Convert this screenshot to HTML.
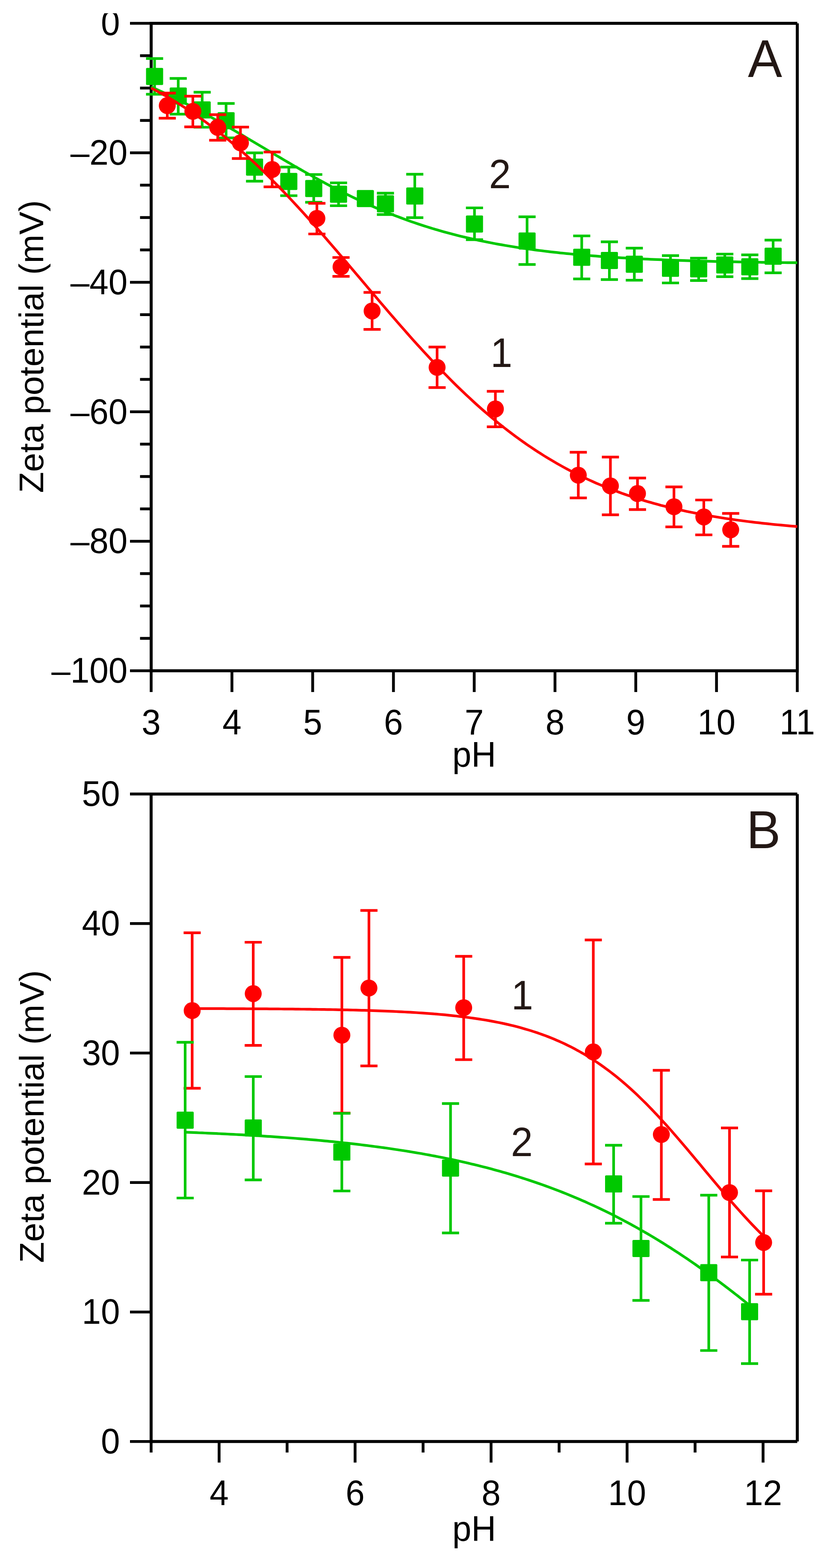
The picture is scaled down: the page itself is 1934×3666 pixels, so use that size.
<!DOCTYPE html>
<html><head><meta charset="utf-8"><title>Zeta potential vs pH</title>
<style>
html,body{margin:0;padding:0;background:#fff;}
svg{display:block;}
text{font-family:"Liberation Sans",Arial,Helvetica,sans-serif;}
</style></head>
<body>
<svg width="1934" height="3666" viewBox="0 0 1934 3666">
<rect width="1934" height="3666" fill="#fff"/>
<line x1="304.0" y1="54.5" x2="353.5" y2="54.5" stroke="#000" stroke-width="6.6"/>
<line x1="327.5" y1="130.2" x2="353.5" y2="130.2" stroke="#000" stroke-width="6.6"/>
<line x1="327.5" y1="205.9" x2="353.5" y2="205.9" stroke="#000" stroke-width="6.6"/>
<line x1="327.5" y1="281.6" x2="353.5" y2="281.6" stroke="#000" stroke-width="6.6"/>
<line x1="304.0" y1="357.2" x2="353.5" y2="357.2" stroke="#000" stroke-width="6.6"/>
<line x1="327.5" y1="432.9" x2="353.5" y2="432.9" stroke="#000" stroke-width="6.6"/>
<line x1="327.5" y1="508.6" x2="353.5" y2="508.6" stroke="#000" stroke-width="6.6"/>
<line x1="327.5" y1="584.3" x2="353.5" y2="584.3" stroke="#000" stroke-width="6.6"/>
<line x1="304.0" y1="660.0" x2="353.5" y2="660.0" stroke="#000" stroke-width="6.6"/>
<line x1="327.5" y1="735.7" x2="353.5" y2="735.7" stroke="#000" stroke-width="6.6"/>
<line x1="327.5" y1="811.4" x2="353.5" y2="811.4" stroke="#000" stroke-width="6.6"/>
<line x1="327.5" y1="887.0" x2="353.5" y2="887.0" stroke="#000" stroke-width="6.6"/>
<line x1="304.0" y1="962.7" x2="353.5" y2="962.7" stroke="#000" stroke-width="6.6"/>
<line x1="327.5" y1="1038.4" x2="353.5" y2="1038.4" stroke="#000" stroke-width="6.6"/>
<line x1="327.5" y1="1114.1" x2="353.5" y2="1114.1" stroke="#000" stroke-width="6.6"/>
<line x1="327.5" y1="1189.8" x2="353.5" y2="1189.8" stroke="#000" stroke-width="6.6"/>
<line x1="304.0" y1="1265.5" x2="353.5" y2="1265.5" stroke="#000" stroke-width="6.6"/>
<line x1="327.5" y1="1341.1" x2="353.5" y2="1341.1" stroke="#000" stroke-width="6.6"/>
<line x1="327.5" y1="1416.8" x2="353.5" y2="1416.8" stroke="#000" stroke-width="6.6"/>
<line x1="327.5" y1="1492.5" x2="353.5" y2="1492.5" stroke="#000" stroke-width="6.6"/>
<line x1="304.0" y1="1568.2" x2="353.5" y2="1568.2" stroke="#000" stroke-width="6.6"/>
<line x1="353.5" y1="1568.2" x2="353.5" y2="1618.0" stroke="#000" stroke-width="6.6"/>
<line x1="542.4" y1="1568.2" x2="542.4" y2="1618.0" stroke="#000" stroke-width="6.6"/>
<line x1="731.2" y1="1568.2" x2="731.2" y2="1618.0" stroke="#000" stroke-width="6.6"/>
<line x1="920.1" y1="1568.2" x2="920.1" y2="1618.0" stroke="#000" stroke-width="6.6"/>
<line x1="1109.0" y1="1568.2" x2="1109.0" y2="1618.0" stroke="#000" stroke-width="6.6"/>
<line x1="1297.9" y1="1568.2" x2="1297.9" y2="1618.0" stroke="#000" stroke-width="6.6"/>
<line x1="1486.8" y1="1568.2" x2="1486.8" y2="1618.0" stroke="#000" stroke-width="6.6"/>
<line x1="1675.6" y1="1568.2" x2="1675.6" y2="1618.0" stroke="#000" stroke-width="6.6"/>
<line x1="1864.5" y1="1568.2" x2="1864.5" y2="1618.0" stroke="#000" stroke-width="6.6"/>
<line x1="353.5" y1="51.0" x2="353.5" y2="1571.7" stroke="#000" stroke-width="7.0"/>
<line x1="350.0" y1="54.5" x2="1864.5" y2="54.5" stroke="#000" stroke-width="7.0"/>
<line x1="1864.5" y1="54.5" x2="1864.5" y2="1571.7" stroke="#000" stroke-width="7.0"/>
<line x1="350.0" y1="1568.2" x2="1868.0" y2="1568.2" stroke="#000" stroke-width="7.0"/>
<text x="280.5" y="0" font-size="80" text-anchor="end" fill="#000" transform="translate(0 82.4) scale(1 1.04)">0</text>
<text x="298.3" y="0" font-size="80" text-anchor="end" fill="#000" transform="translate(0 385.1) scale(1 1.04)">–20</text>
<text x="298.3" y="0" font-size="80" text-anchor="end" fill="#000" transform="translate(0 687.9) scale(1 1.04)">–40</text>
<text x="298.3" y="0" font-size="80" text-anchor="end" fill="#000" transform="translate(0 990.6) scale(1 1.04)">–60</text>
<text x="298.3" y="0" font-size="80" text-anchor="end" fill="#000" transform="translate(0 1293.4) scale(1 1.04)">–80</text>
<text x="298.3" y="0" font-size="80" text-anchor="end" fill="#000" transform="translate(0 1596.1) scale(1 1.04)">–100</text>
<text x="353.5" y="0" font-size="80" text-anchor="middle" fill="#000" transform="translate(0 1717.3) scale(1 1.04)">3</text>
<text x="542.4" y="0" font-size="80" text-anchor="middle" fill="#000" transform="translate(0 1717.3) scale(1 1.04)">4</text>
<text x="731.2" y="0" font-size="80" text-anchor="middle" fill="#000" transform="translate(0 1717.3) scale(1 1.04)">5</text>
<text x="920.1" y="0" font-size="80" text-anchor="middle" fill="#000" transform="translate(0 1717.3) scale(1 1.04)">6</text>
<text x="1109.0" y="0" font-size="80" text-anchor="middle" fill="#000" transform="translate(0 1717.3) scale(1 1.04)">7</text>
<text x="1297.9" y="0" font-size="80" text-anchor="middle" fill="#000" transform="translate(0 1717.3) scale(1 1.04)">8</text>
<text x="1486.8" y="0" font-size="80" text-anchor="middle" fill="#000" transform="translate(0 1717.3) scale(1 1.04)">9</text>
<text x="1675.6" y="0" font-size="80" text-anchor="middle" fill="#000" transform="translate(0 1717.3) scale(1 1.04)">10</text>
<text x="1864.5" y="0" font-size="80" text-anchor="middle" fill="#000" transform="translate(0 1717.3) scale(1 1.04)">11</text>
<text x="1109.0" y="0" font-size="80" text-anchor="middle" fill="#000" transform="translate(0 1792.8) scale(1 1.04)">pH</text>
<text x="0" y="0" font-size="80.5" text-anchor="middle" transform="translate(101.3 810.3) rotate(-90) scale(1 1.0)">Zeta potential (mV)</text>
<text x="1789.0" y="0" font-size="120" text-anchor="middle" fill="#231815" transform="translate(0 179.9) scale(1 1.04)">A</text>
<text x="1169.0" y="0" font-size="92" text-anchor="middle" fill="#231815" transform="translate(0 439.8) scale(1 1.04)">2</text>
<text x="1172.5" y="0" font-size="92" text-anchor="middle" fill="#231815" transform="translate(0 858.4) scale(1 1.04)">1</text>
<path d="M361.5 136.9 V220.3 M341.5 136.9 H381.5 M341.5 220.3 H381.5" stroke="#00c800" stroke-width="6.2" fill="none"/>
<path d="M416.8 183.3 V266.8 M396.8 183.3 H436.8 M396.8 266.8 H436.8" stroke="#00c800" stroke-width="6.2" fill="none"/>
<path d="M472.8 215.7 V297.5 M452.8 215.7 H492.8 M452.8 297.5 H492.8" stroke="#00c800" stroke-width="6.2" fill="none"/>
<path d="M528.7 241.8 V322.4 M508.7 241.8 H548.7 M508.7 322.4 H548.7" stroke="#00c800" stroke-width="6.2" fill="none"/>
<path d="M595.3 357.4 V423.7 M575.3 357.4 H615.3 M575.3 423.7 H615.3" stroke="#00c800" stroke-width="6.2" fill="none"/>
<path d="M675.4 390.7 V457.5 M655.4 390.7 H695.4 M655.4 457.5 H695.4" stroke="#00c800" stroke-width="6.2" fill="none"/>
<path d="M733.7 408.0 V472.8 M713.7 408.0 H753.7 M713.7 472.8 H753.7" stroke="#00c800" stroke-width="6.2" fill="none"/>
<path d="M791.7 427.5 V481.0 M771.7 427.5 H811.7 M771.7 481.0 H811.7" stroke="#00c800" stroke-width="6.2" fill="none"/>
<path d="M901.4 451.6 V501.7 M881.4 451.6 H921.4 M881.4 501.7 H921.4" stroke="#00c800" stroke-width="6.2" fill="none"/>
<path d="M970.0 407.4 V508.9 M950.0 407.4 H990.0 M950.0 508.9 H990.0" stroke="#00c800" stroke-width="6.2" fill="none"/>
<path d="M1109.6 486.0 V560.4 M1089.6 486.0 H1129.6 M1089.6 560.4 H1129.6" stroke="#00c800" stroke-width="6.2" fill="none"/>
<path d="M1232.6 506.9 V618.4 M1212.6 506.9 H1252.6 M1212.6 618.4 H1252.6" stroke="#00c800" stroke-width="6.2" fill="none"/>
<path d="M1360.4 551.5 V652.2 M1340.4 551.5 H1380.4 M1340.4 652.2 H1380.4" stroke="#00c800" stroke-width="6.2" fill="none"/>
<path d="M1425.1 565.4 V653.7 M1405.1 565.4 H1445.1 M1405.1 653.7 H1445.1" stroke="#00c800" stroke-width="6.2" fill="none"/>
<path d="M1483.4 580.1 V655.2 M1463.4 580.1 H1503.4 M1463.4 655.2 H1503.4" stroke="#00c800" stroke-width="6.2" fill="none"/>
<path d="M1568.0 597.6 V661.5 M1548.0 597.6 H1588.0 M1548.0 661.5 H1588.0" stroke="#00c800" stroke-width="6.2" fill="none"/>
<path d="M1633.9 603.5 V655.9 M1613.9 603.5 H1653.9 M1613.9 655.9 H1653.9" stroke="#00c800" stroke-width="6.2" fill="none"/>
<path d="M1695.0 594.0 V646.8 M1675.0 594.0 H1715.0 M1675.0 646.8 H1715.0" stroke="#00c800" stroke-width="6.2" fill="none"/>
<path d="M1753.5 595.8 V651.3 M1733.5 595.8 H1773.5 M1733.5 651.3 H1773.5" stroke="#00c800" stroke-width="6.2" fill="none"/>
<path d="M1808.0 561.3 V637.8 M1788.0 561.3 H1828.0 M1788.0 637.8 H1828.0" stroke="#00c800" stroke-width="6.2" fill="none"/>
<rect x="341.5" y="158.8" width="40.0" height="40.0" rx="2.5" fill="#00c800"/>
<rect x="396.8" y="204.4" width="40.0" height="40.0" rx="2.5" fill="#00c800"/>
<rect x="452.8" y="237.0" width="40.0" height="40.0" rx="2.5" fill="#00c800"/>
<rect x="508.7" y="262.3" width="40.0" height="40.0" rx="2.5" fill="#00c800"/>
<rect x="575.3" y="370.7" width="40.0" height="40.0" rx="2.5" fill="#00c800"/>
<rect x="655.4" y="404.2" width="40.0" height="40.0" rx="2.5" fill="#00c800"/>
<rect x="713.7" y="420.7" width="40.0" height="40.0" rx="2.5" fill="#00c800"/>
<rect x="771.7" y="434.0" width="40.0" height="40.0" rx="2.5" fill="#00c800"/>
<rect x="834.4" y="444.3" width="40.0" height="40.0" rx="2.5" fill="#00c800"/>
<rect x="881.4" y="456.6" width="40.0" height="40.0" rx="2.5" fill="#00c800"/>
<rect x="950.0" y="438.3" width="40.0" height="40.0" rx="2.5" fill="#00c800"/>
<rect x="1089.6" y="503.7" width="40.0" height="40.0" rx="2.5" fill="#00c800"/>
<rect x="1212.6" y="543.4" width="40.0" height="40.0" rx="2.5" fill="#00c800"/>
<rect x="1340.4" y="581.6" width="40.0" height="40.0" rx="2.5" fill="#00c800"/>
<rect x="1405.1" y="588.9" width="40.0" height="40.0" rx="2.5" fill="#00c800"/>
<rect x="1463.4" y="597.8" width="40.0" height="40.0" rx="2.5" fill="#00c800"/>
<rect x="1548.0" y="607.3" width="40.0" height="40.0" rx="2.5" fill="#00c800"/>
<rect x="1613.9" y="608.6" width="40.0" height="40.0" rx="2.5" fill="#00c800"/>
<rect x="1675.0" y="599.5" width="40.0" height="40.0" rx="2.5" fill="#00c800"/>
<rect x="1733.5" y="603.7" width="40.0" height="40.0" rx="2.5" fill="#00c800"/>
<rect x="1788.0" y="579.1" width="40.0" height="40.0" rx="2.5" fill="#00c800"/>
<path d="M353.5 203.1 L361.1 206.5 L368.7 210.0 L376.3 213.5 L383.9 217.1 L391.5 220.7 L399.1 224.3 L406.7 228.1 L414.2 231.9 L421.8 235.7 L429.4 239.6 L437.0 243.5 L444.6 247.4 L452.2 251.5 L459.8 255.5 L467.4 259.6 L475.0 263.8 L482.6 267.9 L490.2 272.1 L497.8 276.4 L505.4 280.7 L513.0 285.0 L520.5 289.3 L528.1 293.7 L535.7 298.1 L543.3 302.5 L550.9 306.9 L558.5 311.4 L566.1 315.8 L573.7 320.3 L581.3 324.8 L588.9 329.3 L596.5 333.8 L604.1 338.3 L611.7 342.9 L619.3 347.4 L626.8 351.9 L634.4 356.4 L642.0 360.9 L649.6 365.4 L657.2 369.8 L664.8 374.3 L672.4 378.7 L680.0 383.2 L687.6 387.6 L695.2 391.9 L702.8 396.3 L710.4 400.6 L718.0 404.9 L725.6 409.1 L733.1 413.4 L740.7 417.5 L748.3 421.7 L755.9 425.8 L763.5 429.9 L771.1 433.9 L778.7 437.9 L786.3 441.8 L793.9 445.7 L801.5 449.5 L809.1 453.3 L816.7 457.1 L824.3 460.8 L831.9 464.4 L839.4 468.0 L847.0 471.5 L854.6 475.0 L862.2 478.4 L869.8 481.8 L877.4 485.1 L885.0 488.3 L892.6 491.5 L900.2 494.7 L907.8 497.8 L915.4 500.8 L923.0 503.8 L930.6 506.7 L938.2 509.5 L945.8 512.3 L953.3 515.1 L960.9 517.8 L968.5 520.4 L976.1 523.0 L983.7 525.5 L991.3 528.0 L998.9 530.4 L1006.5 532.7 L1014.1 535.1 L1021.7 537.3 L1029.3 539.5 L1036.9 541.7 L1044.5 543.8 L1052.1 545.8 L1059.6 547.8 L1067.2 549.8 L1074.8 551.7 L1082.4 553.5 L1090.0 555.3 L1097.6 557.1 L1105.2 558.8 L1112.8 560.5 L1120.4 562.1 L1128.0 563.7 L1135.6 565.3 L1143.2 566.8 L1150.8 568.2 L1158.4 569.7 L1165.9 571.1 L1173.5 572.4 L1181.1 573.7 L1188.7 575.0 L1196.3 576.3 L1203.9 577.5 L1211.5 578.7 L1219.1 579.8 L1226.7 580.9 L1234.3 582.0 L1241.9 583.0 L1249.5 584.1 L1257.1 585.1 L1264.7 586.0 L1272.2 587.0 L1279.8 587.9 L1287.4 588.8 L1295.0 589.6 L1302.6 590.4 L1310.2 591.3 L1317.8 592.0 L1325.4 592.8 L1333.0 593.5 L1340.6 594.3 L1348.2 595.0 L1355.8 595.6 L1363.4 596.3 L1371.0 596.9 L1378.6 597.5 L1386.1 598.1 L1393.7 598.7 L1401.3 599.3 L1408.9 599.8 L1416.5 600.4 L1424.1 600.9 L1431.7 601.4 L1439.3 601.8 L1446.9 602.3 L1454.5 602.8 L1462.1 603.2 L1469.7 603.6 L1477.3 604.0 L1484.9 604.4 L1492.4 604.8 L1500.0 605.2 L1507.6 605.6 L1515.2 605.9 L1522.8 606.3 L1530.4 606.6 L1538.0 606.9 L1545.6 607.2 L1553.2 607.5 L1560.8 607.8 L1568.4 608.1 L1576.0 608.4 L1583.6 608.6 L1591.2 608.9 L1598.7 609.2 L1606.3 609.4 L1613.9 609.6 L1621.5 609.9 L1629.1 610.1 L1636.7 610.3 L1644.3 610.5 L1651.9 610.7 L1659.5 610.9 L1667.1 611.1 L1674.7 611.3 L1682.3 611.4 L1689.9 611.6 L1697.5 611.8 L1705.0 611.9 L1712.6 612.1 L1720.2 612.2 L1727.8 612.4 L1735.4 612.5 L1743.0 612.6 L1750.6 612.8 L1758.2 612.9 L1765.8 613.0 L1773.4 613.1 L1781.0 613.3 L1788.6 613.4 L1796.2 613.5 L1803.8 613.6 L1811.3 613.7 L1818.9 613.8 L1826.5 613.9 L1834.1 614.0 L1841.7 614.1 L1849.3 614.1 L1856.9 614.2 L1864.5 614.3" fill="none" stroke="#00c800" stroke-width="6.2" stroke-linejoin="round"/>
<path d="M391.2 217.7 V276.4 M371.2 217.7 H411.2 M371.2 276.4 H411.2" stroke="#ff0000" stroke-width="6.2" fill="none"/>
<path d="M451.0 224.9 V296.6 M431.0 224.9 H471.0 M431.0 296.6 H471.0" stroke="#ff0000" stroke-width="6.2" fill="none"/>
<path d="M509.2 268.1 V327.9 M489.2 268.1 H529.2 M489.2 327.9 H529.2" stroke="#ff0000" stroke-width="6.2" fill="none"/>
<path d="M562.3 297.1 V370.7 M542.3 297.1 H582.3 M542.3 370.7 H582.3" stroke="#ff0000" stroke-width="6.2" fill="none"/>
<path d="M636.5 355.4 V436.9 M616.5 355.4 H656.5 M616.5 436.9 H656.5" stroke="#ff0000" stroke-width="6.2" fill="none"/>
<path d="M741.1 475.3 V547.0 M721.1 475.3 H761.1 M721.1 547.0 H761.1" stroke="#ff0000" stroke-width="6.2" fill="none"/>
<path d="M797.5 602.0 V646.2 M777.5 602.0 H817.5 M777.5 646.2 H817.5" stroke="#ff0000" stroke-width="6.2" fill="none"/>
<path d="M870.2 683.7 V770.1 M850.2 683.7 H890.2 M850.2 770.1 H890.2" stroke="#ff0000" stroke-width="6.2" fill="none"/>
<path d="M1022.2 811.3 V906.1 M1002.2 811.3 H1042.2 M1002.2 906.1 H1042.2" stroke="#ff0000" stroke-width="6.2" fill="none"/>
<path d="M1158.5 914.9 V997.9 M1138.5 914.9 H1178.5 M1138.5 997.9 H1178.5" stroke="#ff0000" stroke-width="6.2" fill="none"/>
<path d="M1352.4 1057.4 V1164.2 M1332.4 1057.4 H1372.4 M1332.4 1164.2 H1372.4" stroke="#ff0000" stroke-width="6.2" fill="none"/>
<path d="M1427.5 1068.6 V1203.7 M1407.5 1068.6 H1447.5 M1407.5 1203.7 H1447.5" stroke="#ff0000" stroke-width="6.2" fill="none"/>
<path d="M1490.8 1117.7 V1191.3 M1470.8 1117.7 H1510.8 M1470.8 1191.3 H1510.8" stroke="#ff0000" stroke-width="6.2" fill="none"/>
<path d="M1576.1 1138.3 V1231.9 M1556.1 1138.3 H1596.1 M1556.1 1231.9 H1596.1" stroke="#ff0000" stroke-width="6.2" fill="none"/>
<path d="M1645.9 1169.0 V1250.5 M1625.9 1169.0 H1665.9 M1625.9 1250.5 H1665.9" stroke="#ff0000" stroke-width="6.2" fill="none"/>
<path d="M1708.8 1200.4 V1277.3 M1688.8 1200.4 H1728.8 M1688.8 1277.3 H1728.8" stroke="#ff0000" stroke-width="6.2" fill="none"/>
<circle cx="391.2" cy="246.9" r="19.8" fill="#ff0000"/>
<circle cx="451.0" cy="260.2" r="19.8" fill="#ff0000"/>
<circle cx="509.2" cy="297.9" r="19.8" fill="#ff0000"/>
<circle cx="562.3" cy="334.0" r="19.8" fill="#ff0000"/>
<circle cx="636.5" cy="396.3" r="19.8" fill="#ff0000"/>
<circle cx="741.1" cy="510.6" r="19.8" fill="#ff0000"/>
<circle cx="797.5" cy="624.0" r="19.8" fill="#ff0000"/>
<circle cx="870.2" cy="727.1" r="19.8" fill="#ff0000"/>
<circle cx="1022.2" cy="859.0" r="19.8" fill="#ff0000"/>
<circle cx="1158.5" cy="956.1" r="19.8" fill="#ff0000"/>
<circle cx="1352.4" cy="1111.0" r="19.8" fill="#ff0000"/>
<circle cx="1427.5" cy="1136.0" r="19.8" fill="#ff0000"/>
<circle cx="1490.8" cy="1153.9" r="19.8" fill="#ff0000"/>
<circle cx="1576.1" cy="1184.8" r="19.8" fill="#ff0000"/>
<circle cx="1645.9" cy="1208.6" r="19.8" fill="#ff0000"/>
<circle cx="1708.8" cy="1238.6" r="19.8" fill="#ff0000"/>
<path d="M353.5 205.7 L361.1 209.7 L368.7 213.8 L376.3 218.0 L383.9 222.2 L391.5 226.6 L399.1 231.0 L406.7 235.6 L414.2 240.2 L421.8 245.0 L429.4 249.8 L437.0 254.8 L444.6 259.8 L452.2 264.9 L459.8 270.2 L467.4 275.5 L475.0 281.0 L482.6 286.5 L490.2 292.2 L497.8 297.9 L505.4 303.8 L513.0 309.7 L520.5 315.8 L528.1 322.0 L535.7 328.2 L543.3 334.6 L550.9 341.1 L558.5 347.7 L566.1 354.3 L573.7 361.1 L581.3 368.0 L588.9 375.0 L596.5 382.1 L604.1 389.2 L611.7 396.5 L619.3 403.9 L626.8 411.3 L634.4 418.9 L642.0 426.5 L649.6 434.2 L657.2 442.0 L664.8 449.9 L672.4 457.9 L680.0 466.0 L687.6 474.1 L695.2 482.3 L702.8 490.6 L710.4 498.9 L718.0 507.3 L725.6 515.8 L733.1 524.3 L740.7 532.9 L748.3 541.5 L755.9 550.2 L763.5 558.9 L771.1 567.7 L778.7 576.5 L786.3 585.3 L793.9 594.2 L801.5 603.1 L809.1 612.0 L816.7 620.9 L824.3 629.9 L831.9 638.9 L839.4 647.8 L847.0 656.8 L854.6 665.8 L862.2 674.7 L869.8 683.7 L877.4 692.6 L885.0 701.5 L892.6 710.4 L900.2 719.3 L907.8 728.2 L915.4 737.0 L923.0 745.8 L930.6 754.5 L938.2 763.2 L945.8 771.8 L953.3 780.4 L960.9 789.0 L968.5 797.5 L976.1 805.9 L983.7 814.2 L991.3 822.5 L998.9 830.7 L1006.5 838.9 L1014.1 847.0 L1021.7 855.0 L1029.3 862.9 L1036.9 870.7 L1044.5 878.4 L1052.1 886.1 L1059.6 893.7 L1067.2 901.2 L1074.8 908.5 L1082.4 915.8 L1090.0 923.0 L1097.6 930.1 L1105.2 937.1 L1112.8 944.1 L1120.4 950.9 L1128.0 957.6 L1135.6 964.2 L1143.2 970.7 L1150.8 977.1 L1158.4 983.4 L1165.9 989.6 L1173.5 995.7 L1181.1 1001.6 L1188.7 1007.5 L1196.3 1013.3 L1203.9 1019.0 L1211.5 1024.6 L1219.1 1030.0 L1226.7 1035.4 L1234.3 1040.7 L1241.9 1045.8 L1249.5 1050.9 L1257.1 1055.9 L1264.7 1060.7 L1272.2 1065.5 L1279.8 1070.2 L1287.4 1074.7 L1295.0 1079.2 L1302.6 1083.6 L1310.2 1087.9 L1317.8 1092.1 L1325.4 1096.2 L1333.0 1100.2 L1340.6 1104.2 L1348.2 1108.0 L1355.8 1111.8 L1363.4 1115.4 L1371.0 1119.0 L1378.6 1122.5 L1386.1 1125.9 L1393.7 1129.3 L1401.3 1132.5 L1408.9 1135.7 L1416.5 1138.8 L1424.1 1141.9 L1431.7 1144.8 L1439.3 1147.7 L1446.9 1150.5 L1454.5 1153.3 L1462.1 1156.0 L1469.7 1158.6 L1477.3 1161.1 L1484.9 1163.6 L1492.4 1166.0 L1500.0 1168.4 L1507.6 1170.7 L1515.2 1172.9 L1522.8 1175.1 L1530.4 1177.3 L1538.0 1179.3 L1545.6 1181.4 L1553.2 1183.3 L1560.8 1185.2 L1568.4 1187.1 L1576.0 1188.9 L1583.6 1190.7 L1591.2 1192.4 L1598.7 1194.1 L1606.3 1195.7 L1613.9 1197.3 L1621.5 1198.8 L1629.1 1200.3 L1636.7 1201.8 L1644.3 1203.2 L1651.9 1204.6 L1659.5 1206.0 L1667.1 1207.3 L1674.7 1208.5 L1682.3 1209.8 L1689.9 1211.0 L1697.5 1212.2 L1705.0 1213.3 L1712.6 1214.4 L1720.2 1215.5 L1727.8 1216.5 L1735.4 1217.5 L1743.0 1218.5 L1750.6 1219.5 L1758.2 1220.4 L1765.8 1221.3 L1773.4 1222.2 L1781.0 1223.1 L1788.6 1223.9 L1796.2 1224.7 L1803.8 1225.5 L1811.3 1226.3 L1818.9 1227.0 L1826.5 1227.7 L1834.1 1228.4 L1841.7 1229.1 L1849.3 1229.8 L1856.9 1230.4 L1864.5 1231.1" fill="none" stroke="#ff0000" stroke-width="6.2" stroke-linejoin="round"/>
<line x1="304.0" y1="3370.3" x2="353.4" y2="3370.3" stroke="#000" stroke-width="6.6"/>
<line x1="304.0" y1="3067.5" x2="353.4" y2="3067.5" stroke="#000" stroke-width="6.6"/>
<line x1="304.0" y1="2764.7" x2="353.4" y2="2764.7" stroke="#000" stroke-width="6.6"/>
<line x1="304.0" y1="2462.0" x2="353.4" y2="2462.0" stroke="#000" stroke-width="6.6"/>
<line x1="304.0" y1="2159.2" x2="353.4" y2="2159.2" stroke="#000" stroke-width="6.6"/>
<line x1="304.0" y1="1856.4" x2="353.4" y2="1856.4" stroke="#000" stroke-width="6.6"/>
<line x1="353.4" y1="3370.3" x2="353.4" y2="3396.0" stroke="#000" stroke-width="6.6"/>
<line x1="512.4" y1="3370.3" x2="512.4" y2="3419.5" stroke="#000" stroke-width="6.6"/>
<line x1="671.4" y1="3370.3" x2="671.4" y2="3396.0" stroke="#000" stroke-width="6.6"/>
<line x1="830.4" y1="3370.3" x2="830.4" y2="3419.5" stroke="#000" stroke-width="6.6"/>
<line x1="989.4" y1="3370.3" x2="989.4" y2="3396.0" stroke="#000" stroke-width="6.6"/>
<line x1="1148.4" y1="3370.3" x2="1148.4" y2="3419.5" stroke="#000" stroke-width="6.6"/>
<line x1="1307.5" y1="3370.3" x2="1307.5" y2="3396.0" stroke="#000" stroke-width="6.6"/>
<line x1="1466.5" y1="3370.3" x2="1466.5" y2="3419.5" stroke="#000" stroke-width="6.6"/>
<line x1="1625.5" y1="3370.3" x2="1625.5" y2="3396.0" stroke="#000" stroke-width="6.6"/>
<line x1="1784.5" y1="3370.3" x2="1784.5" y2="3419.5" stroke="#000" stroke-width="6.6"/>
<line x1="353.4" y1="1852.9" x2="353.4" y2="3373.8" stroke="#000" stroke-width="7.0"/>
<line x1="349.9" y1="1856.4" x2="1864.5" y2="1856.4" stroke="#000" stroke-width="7.0"/>
<line x1="1864.5" y1="1856.4" x2="1864.5" y2="3370.3" stroke="#000" stroke-width="7.0"/>
<line x1="349.9" y1="3370.3" x2="1864.5" y2="3370.3" stroke="#000" stroke-width="7.0"/>
<text x="280.5" y="0" font-size="80" text-anchor="end" fill="#000" transform="translate(0 3398.2) scale(1 1.04)">0</text>
<text x="280.5" y="0" font-size="80" text-anchor="end" fill="#000" transform="translate(0 3095.4) scale(1 1.04)">10</text>
<text x="280.5" y="0" font-size="80" text-anchor="end" fill="#000" transform="translate(0 2792.6) scale(1 1.04)">20</text>
<text x="280.5" y="0" font-size="80" text-anchor="end" fill="#000" transform="translate(0 2489.9) scale(1 1.04)">30</text>
<text x="280.5" y="0" font-size="80" text-anchor="end" fill="#000" transform="translate(0 2187.1) scale(1 1.04)">40</text>
<text x="280.5" y="0" font-size="80" text-anchor="end" fill="#000" transform="translate(0 1884.3) scale(1 1.04)">50</text>
<text x="512.4" y="0" font-size="80" text-anchor="middle" fill="#000" transform="translate(0 3518.8) scale(1 1.04)">4</text>
<text x="830.4" y="0" font-size="80" text-anchor="middle" fill="#000" transform="translate(0 3518.8) scale(1 1.04)">6</text>
<text x="1148.4" y="0" font-size="80" text-anchor="middle" fill="#000" transform="translate(0 3518.8) scale(1 1.04)">8</text>
<text x="1466.5" y="0" font-size="80" text-anchor="middle" fill="#000" transform="translate(0 3518.8) scale(1 1.04)">10</text>
<text x="1784.5" y="0" font-size="80" text-anchor="middle" fill="#000" transform="translate(0 3518.8) scale(1 1.04)">12</text>
<text x="1109.0" y="0" font-size="80" text-anchor="middle" fill="#000" transform="translate(0 3602.7) scale(1 1.04)">pH</text>
<text x="0" y="0" font-size="80.5" text-anchor="middle" transform="translate(101.9 2610.5) rotate(-90) scale(1 1.0)">Zeta potential (mV)</text>
<text x="1785.4" y="0" font-size="120" text-anchor="middle" fill="#231815" transform="translate(0 1983.0) scale(1 1.04)">B</text>
<text x="1221.4" y="0" font-size="92" text-anchor="middle" fill="#231815" transform="translate(0 2359.7) scale(1 1.04)">1</text>
<text x="1220.4" y="0" font-size="92" text-anchor="middle" fill="#231815" transform="translate(0 2703.1) scale(1 1.04)">2</text>
<path d="M449.4 2180.9 V2544.3 M429.4 2180.9 H469.4 M429.4 2544.3 H469.4" stroke="#ff0000" stroke-width="6.2" fill="none"/>
<path d="M592.2 2203.0 V2444.2 M572.2 2203.0 H612.2 M572.2 2444.2 H612.2" stroke="#ff0000" stroke-width="6.2" fill="none"/>
<path d="M799.5 2238.3 V2602.4 M779.5 2238.3 H819.5 M779.5 2602.4 H819.5" stroke="#ff0000" stroke-width="6.2" fill="none"/>
<path d="M862.8 2128.6 V2492.1 M842.8 2128.6 H882.8 M842.8 2492.1 H882.8" stroke="#ff0000" stroke-width="6.2" fill="none"/>
<path d="M1084.4 2235.8 V2477.5 M1064.4 2235.8 H1104.4 M1064.4 2477.5 H1104.4" stroke="#ff0000" stroke-width="6.2" fill="none"/>
<path d="M1387.5 2197.7 V2721.4 M1367.5 2197.7 H1407.5 M1367.5 2721.4 H1407.5" stroke="#ff0000" stroke-width="6.2" fill="none"/>
<path d="M1546.6 2502.4 V2804.4 M1526.6 2502.4 H1566.6 M1526.6 2804.4 H1566.6" stroke="#ff0000" stroke-width="6.2" fill="none"/>
<path d="M1706.0 2637.2 V2938.9 M1686.0 2637.2 H1726.0 M1686.0 2938.9 H1726.0" stroke="#ff0000" stroke-width="6.2" fill="none"/>
<path d="M1785.8 2784.1 V3025.8 M1765.8 2784.1 H1805.8 M1765.8 3025.8 H1805.8" stroke="#ff0000" stroke-width="6.2" fill="none"/>
<circle cx="449.4" cy="2362.8" r="19.8" fill="#ff0000"/>
<circle cx="592.2" cy="2323.1" r="19.8" fill="#ff0000"/>
<circle cx="799.5" cy="2420.2" r="19.8" fill="#ff0000"/>
<circle cx="862.8" cy="2310.0" r="19.8" fill="#ff0000"/>
<circle cx="1084.4" cy="2356.0" r="19.8" fill="#ff0000"/>
<circle cx="1387.5" cy="2459.4" r="19.8" fill="#ff0000"/>
<circle cx="1546.6" cy="2652.5" r="19.8" fill="#ff0000"/>
<circle cx="1706.0" cy="2788.2" r="19.8" fill="#ff0000"/>
<circle cx="1785.8" cy="2905.0" r="19.8" fill="#ff0000"/>
<path d="M449.4 2358.0 L456.1 2358.0 L462.8 2358.1 L469.5 2358.1 L476.3 2358.1 L483.0 2358.1 L489.7 2358.1 L496.4 2358.2 L503.1 2358.2 L509.8 2358.2 L516.6 2358.2 L523.3 2358.2 L530.0 2358.3 L536.7 2358.3 L543.4 2358.3 L550.1 2358.3 L556.8 2358.4 L563.6 2358.4 L570.3 2358.4 L577.0 2358.5 L583.7 2358.5 L590.4 2358.5 L597.1 2358.6 L603.9 2358.6 L610.6 2358.7 L617.3 2358.7 L624.0 2358.7 L630.7 2358.8 L637.4 2358.8 L644.2 2358.9 L650.9 2358.9 L657.6 2359.0 L664.3 2359.1 L671.0 2359.1 L677.7 2359.2 L684.4 2359.2 L691.2 2359.3 L697.9 2359.4 L704.6 2359.5 L711.3 2359.5 L718.0 2359.6 L724.7 2359.7 L731.5 2359.8 L738.2 2359.9 L744.9 2360.0 L751.6 2360.1 L758.3 2360.2 L765.0 2360.3 L771.7 2360.4 L778.5 2360.5 L785.2 2360.7 L791.9 2360.8 L798.6 2360.9 L805.3 2361.1 L812.0 2361.2 L818.8 2361.4 L825.5 2361.5 L832.2 2361.7 L838.9 2361.9 L845.6 2362.1 L852.3 2362.2 L859.1 2362.4 L865.8 2362.7 L872.5 2362.9 L879.2 2363.1 L885.9 2363.3 L892.6 2363.6 L899.3 2363.8 L906.1 2364.1 L912.8 2364.4 L919.5 2364.7 L926.2 2365.0 L932.9 2365.3 L939.6 2365.6 L946.4 2366.0 L953.1 2366.3 L959.8 2366.7 L966.5 2367.1 L973.2 2367.5 L979.9 2368.0 L986.6 2368.4 L993.4 2368.9 L1000.1 2369.4 L1006.8 2369.9 L1013.5 2370.4 L1020.2 2370.9 L1026.9 2371.5 L1033.7 2372.1 L1040.4 2372.7 L1047.1 2373.4 L1053.8 2374.1 L1060.5 2374.8 L1067.2 2375.5 L1073.9 2376.3 L1080.7 2377.1 L1087.4 2377.9 L1094.1 2378.8 L1100.8 2379.7 L1107.5 2380.6 L1114.2 2381.6 L1121.0 2382.6 L1127.7 2383.7 L1134.4 2384.8 L1141.1 2385.9 L1147.8 2387.1 L1154.5 2388.4 L1161.3 2389.7 L1168.0 2391.0 L1174.7 2392.4 L1181.4 2393.9 L1188.1 2395.4 L1194.8 2397.0 L1201.5 2398.6 L1208.3 2400.3 L1215.0 2402.1 L1221.7 2404.0 L1228.4 2405.9 L1235.1 2407.9 L1241.8 2409.9 L1248.6 2412.1 L1255.3 2414.3 L1262.0 2416.6 L1268.7 2419.0 L1275.4 2421.4 L1282.1 2424.0 L1288.8 2426.7 L1295.6 2429.4 L1302.3 2432.3 L1309.0 2435.2 L1315.7 2438.3 L1322.4 2441.4 L1329.1 2444.7 L1335.9 2448.1 L1342.6 2451.6 L1349.3 2455.2 L1356.0 2458.9 L1362.7 2462.7 L1369.4 2466.7 L1376.1 2470.8 L1382.9 2475.0 L1389.6 2479.3 L1396.3 2483.8 L1403.0 2488.4 L1409.7 2493.1 L1416.4 2497.9 L1423.2 2502.9 L1429.9 2508.1 L1436.6 2513.3 L1443.3 2518.7 L1450.0 2524.2 L1456.7 2529.9 L1463.5 2535.7 L1470.2 2541.6 L1476.9 2547.6 L1483.6 2553.8 L1490.3 2560.1 L1497.0 2566.6 L1503.7 2573.1 L1510.5 2579.8 L1517.2 2586.6 L1523.9 2593.5 L1530.6 2600.6 L1537.3 2607.7 L1544.0 2614.9 L1550.8 2622.3 L1557.5 2629.7 L1564.2 2637.2 L1570.9 2644.8 L1577.6 2652.5 L1584.3 2660.2 L1591.0 2668.0 L1597.8 2675.9 L1604.5 2683.8 L1611.2 2691.7 L1617.9 2699.7 L1624.6 2707.7 L1631.3 2715.8 L1638.1 2723.8 L1644.8 2731.9 L1651.5 2740.0 L1658.2 2748.0 L1664.9 2756.1 L1671.6 2764.1 L1678.4 2772.0 L1685.1 2780.0 L1691.8 2787.9 L1698.5 2795.7 L1705.2 2803.5 L1711.9 2811.2 L1718.6 2818.9 L1725.4 2826.5 L1732.1 2834.0 L1738.8 2841.4 L1745.5 2848.7 L1752.2 2855.9 L1758.9 2863.0 L1765.7 2870.0 L1772.4 2876.9 L1779.1 2883.6 L1785.8 2890.3" fill="none" stroke="#ff0000" stroke-width="6.2" stroke-linejoin="round"/>
<path d="M433.0 2436.8 V2801.0 M413.0 2436.8 H453.0 M413.0 2801.0 H453.0" stroke="#00c800" stroke-width="6.2" fill="none"/>
<path d="M592.3 2517.0 V2758.7 M572.3 2517.0 H612.3 M572.3 2758.7 H612.3" stroke="#00c800" stroke-width="6.2" fill="none"/>
<path d="M799.4 2603.0 V2784.5 M779.4 2603.0 H819.4 M779.4 2784.5 H819.4" stroke="#00c800" stroke-width="6.2" fill="none"/>
<path d="M1053.6 2580.1 V2882.6 M1033.6 2580.1 H1073.6 M1033.6 2882.6 H1073.6" stroke="#00c800" stroke-width="6.2" fill="none"/>
<path d="M1435.0 2677.7 V2859.8 M1415.0 2677.7 H1455.0 M1415.0 2859.8 H1455.0" stroke="#00c800" stroke-width="6.2" fill="none"/>
<path d="M1499.0 2797.5 V3040.4 M1479.0 2797.5 H1519.0 M1479.0 3040.4 H1519.0" stroke="#00c800" stroke-width="6.2" fill="none"/>
<path d="M1657.5 2794.3 V3157.5 M1637.5 2794.3 H1677.5 M1637.5 3157.5 H1677.5" stroke="#00c800" stroke-width="6.2" fill="none"/>
<path d="M1753.0 2946.0 V3188.1 M1733.0 2946.0 H1773.0 M1733.0 3188.1 H1773.0" stroke="#00c800" stroke-width="6.2" fill="none"/>
<rect x="413.0" y="2598.9" width="40.0" height="40.0" rx="2.5" fill="#00c800"/>
<rect x="572.3" y="2617.3" width="40.0" height="40.0" rx="2.5" fill="#00c800"/>
<rect x="779.4" y="2673.6" width="40.0" height="40.0" rx="2.5" fill="#00c800"/>
<rect x="1033.6" y="2711.0" width="40.0" height="40.0" rx="2.5" fill="#00c800"/>
<rect x="1415.0" y="2748.0" width="40.0" height="40.0" rx="2.5" fill="#00c800"/>
<rect x="1479.0" y="2898.9" width="40.0" height="40.0" rx="2.5" fill="#00c800"/>
<rect x="1637.5" y="2955.5" width="40.0" height="40.0" rx="2.5" fill="#00c800"/>
<rect x="1733.0" y="3046.7" width="40.0" height="40.0" rx="2.5" fill="#00c800"/>
<path d="M433.0 2647.1 L439.6 2647.4 L446.3 2647.7 L452.9 2647.9 L459.5 2648.2 L466.2 2648.5 L472.8 2648.7 L479.4 2649.0 L486.1 2649.3 L492.7 2649.6 L499.3 2649.9 L506.0 2650.2 L512.6 2650.5 L519.2 2650.8 L525.9 2651.1 L532.5 2651.5 L539.1 2651.8 L545.8 2652.1 L552.4 2652.5 L559.0 2652.9 L565.7 2653.2 L572.3 2653.6 L578.9 2654.0 L585.6 2654.3 L592.2 2654.7 L598.8 2655.1 L605.5 2655.5 L612.1 2655.9 L618.7 2656.4 L625.4 2656.8 L632.0 2657.2 L638.6 2657.7 L645.3 2658.1 L651.9 2658.6 L658.5 2659.1 L665.2 2659.5 L671.8 2660.0 L678.4 2660.5 L685.1 2661.0 L691.7 2661.5 L698.3 2662.1 L705.0 2662.6 L711.6 2663.2 L718.2 2663.7 L724.9 2664.3 L731.5 2664.9 L738.1 2665.4 L744.8 2666.0 L751.4 2666.7 L758.0 2667.3 L764.7 2667.9 L771.3 2668.6 L777.9 2669.2 L784.6 2669.9 L791.2 2670.6 L797.8 2671.3 L804.5 2672.0 L811.1 2672.7 L817.7 2673.4 L824.4 2674.2 L831.0 2674.9 L837.6 2675.7 L844.3 2676.5 L850.9 2677.3 L857.5 2678.1 L864.2 2679.0 L870.8 2679.8 L877.4 2680.7 L884.1 2681.6 L890.7 2682.5 L897.3 2683.4 L904.0 2684.3 L910.6 2685.2 L917.2 2686.2 L923.9 2687.2 L930.5 2688.2 L937.1 2689.2 L943.8 2690.2 L950.4 2691.3 L957.0 2692.4 L963.7 2693.5 L970.3 2694.6 L976.9 2695.7 L983.6 2696.8 L990.2 2698.0 L996.8 2699.2 L1003.5 2700.4 L1010.1 2701.7 L1016.7 2702.9 L1023.4 2704.2 L1030.0 2705.5 L1036.6 2706.8 L1043.3 2708.2 L1049.9 2709.5 L1056.5 2710.9 L1063.2 2712.3 L1069.8 2713.8 L1076.4 2715.2 L1083.1 2716.7 L1089.7 2718.2 L1096.3 2719.8 L1102.9 2721.4 L1109.6 2722.9 L1116.2 2724.6 L1122.8 2726.2 L1129.5 2727.9 L1136.1 2729.6 L1142.7 2731.3 L1149.4 2733.1 L1156.0 2734.9 L1162.6 2736.7 L1169.3 2738.5 L1175.9 2740.4 L1182.5 2742.3 L1189.2 2744.3 L1195.8 2746.3 L1202.4 2748.3 L1209.1 2750.3 L1215.7 2752.4 L1222.3 2754.5 L1229.0 2756.6 L1235.6 2758.8 L1242.2 2761.0 L1248.9 2763.2 L1255.5 2765.5 L1262.1 2767.8 L1268.8 2770.1 L1275.4 2772.5 L1282.0 2774.9 L1288.7 2777.4 L1295.3 2779.8 L1301.9 2782.4 L1308.6 2784.9 L1315.2 2787.5 L1321.8 2790.2 L1328.5 2792.8 L1335.1 2795.6 L1341.7 2798.3 L1348.4 2801.1 L1355.0 2803.9 L1361.6 2806.8 L1368.3 2809.7 L1374.9 2812.7 L1381.5 2815.7 L1388.2 2818.7 L1394.8 2821.8 L1401.4 2824.9 L1408.1 2828.1 L1414.7 2831.3 L1421.3 2834.5 L1428.0 2837.8 L1434.6 2841.1 L1441.2 2844.5 L1447.9 2847.9 L1454.5 2851.4 L1461.1 2854.9 L1467.8 2858.5 L1474.4 2862.0 L1481.0 2865.7 L1487.7 2869.4 L1494.3 2873.1 L1500.9 2876.9 L1507.6 2880.7 L1514.2 2884.5 L1520.8 2888.4 L1527.5 2892.4 L1534.1 2896.4 L1540.7 2900.4 L1547.4 2904.5 L1554.0 2908.6 L1560.6 2912.8 L1567.3 2917.0 L1573.9 2921.3 L1580.5 2925.6 L1587.2 2929.9 L1593.8 2934.3 L1600.4 2938.8 L1607.1 2943.2 L1613.7 2947.7 L1620.3 2952.3 L1627.0 2956.9 L1633.6 2961.6 L1640.2 2966.3 L1646.9 2971.0 L1653.5 2975.8 L1660.1 2980.6 L1666.8 2985.4 L1673.4 2990.3 L1680.0 2995.2 L1686.7 3000.2 L1693.3 3005.2 L1699.9 3010.3 L1706.6 3015.4 L1713.2 3020.5 L1719.8 3025.6 L1726.5 3030.8 L1733.1 3036.1 L1739.7 3041.3 L1746.4 3046.6 L1753.0 3052.0" fill="none" stroke="#00c800" stroke-width="6.2" stroke-linejoin="round"/>
<rect x="0" y="0" width="1934" height="31" fill="#fff"/>
</svg>
</body></html>
